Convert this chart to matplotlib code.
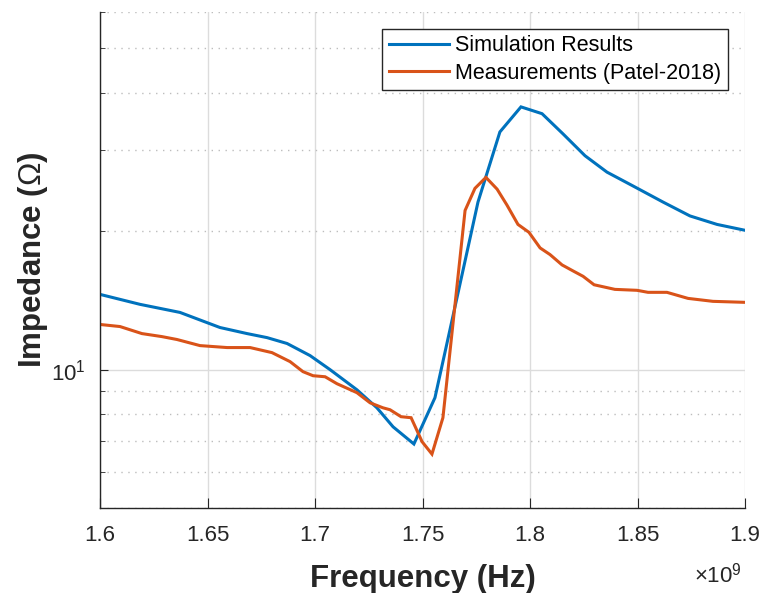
import numpy as np
import matplotlib
matplotlib.use("Agg")
import matplotlib.pyplot as plt
from matplotlib.ticker import FixedLocator, FuncFormatter, LogLocator, NullFormatter

# ---- data (frequency in GHz, impedance in Ohm) ----
sim_freq_ghz = [1.6000, 1.6186, 1.6372, 1.6558, 1.6684, 1.6777, 1.6870, 1.6977,
                1.7070, 1.7195, 1.7288, 1.7363, 1.7460, 1.7558, 1.7628, 1.7758,
                1.7860, 1.7958, 1.8056, 1.8153, 1.8256, 1.8358, 1.8479, 1.8619,
                1.8744, 1.8870, 1.9000]
sim_imp = [14.58, 13.87, 13.32, 12.35, 11.98, 11.74, 11.40, 10.73,
           10.00, 9.04, 8.26, 7.51, 6.89, 8.69, 12.23, 23.15,
           32.9, 37.3, 36.05, 32.6, 29.2, 26.9, 25.1, 23.15,
           21.6, 20.7, 20.1]

meas_freq_ghz = [1.6000, 1.6093, 1.6195, 1.6288, 1.6358, 1.6465, 1.6591, 1.6698,
                 1.6800, 1.6884, 1.6944, 1.6991, 1.7047, 1.7102, 1.7195, 1.7256,
                 1.7316, 1.7349, 1.7400, 1.7447, 1.7498, 1.7544, 1.7595, 1.7698,
                 1.7744, 1.7795, 1.7847, 1.7893, 1.7944, 1.7995, 1.8047, 1.8093,
                 1.8149, 1.8200, 1.8247, 1.8298, 1.8395, 1.8498, 1.8549, 1.8637,
                 1.8735, 1.8851, 1.9000]
meas_imp = [12.54, 12.41, 11.98, 11.80, 11.63, 11.28, 11.17, 11.17,
            10.89, 10.41, 9.90, 9.70, 9.65, 9.32, 8.91, 8.47,
            8.26, 8.18, 7.90, 7.86, 6.97, 6.55, 7.86, 22.2,
            24.8, 26.2, 24.7, 22.8, 20.7, 19.9, 18.4, 17.8,
            16.9, 16.4, 15.96, 15.3, 14.95, 14.88, 14.73, 14.73,
            14.29, 14.08, 14.01]

xtick_ghz = [1.6, 1.65, 1.7, 1.75, 1.8, 1.85, 1.9]
series_labels = ["Simulation Results", "Measurements (Patel-2018)"]

plt.rcParams['font.family'] = ['Liberation Sans', 'DejaVu Sans']
plt.rcParams['mathtext.fontset'] = 'custom'
plt.rcParams['mathtext.rm'] = 'Liberation Sans'
plt.rcParams['mathtext.it'] = 'Liberation Serif:italic'

fig = plt.figure(figsize=(7.61, 5.93), dpi=100)
ax = fig.add_axes([100/761, 1-508/593, 645/761, 496/593])

ax.plot(np.array(sim_freq_ghz)*1e9, sim_imp, color='#0072BD', lw=2.2,
        label=series_labels[0], solid_joinstyle='miter')
ax.plot(np.array(meas_freq_ghz)*1e9, meas_imp, color='#D95319', lw=2.2,
        label=series_labels[1], solid_joinstyle='miter')

ax.set_yscale('log')
ax.set_xlim(1.6e9, 1.9e9)
ax.set_ylim(5, 60)

ax.xaxis.set_major_locator(FixedLocator([v*1e9 for v in xtick_ghz]))
ax.xaxis.set_major_formatter(FuncFormatter(lambda v, p: f"{v/1e9:g}"))
ax.yaxis.set_major_locator(LogLocator(base=10, numticks=10))
ax.yaxis.set_minor_locator(LogLocator(base=10, subs=np.arange(2, 10), numticks=20))
ax.yaxis.set_minor_formatter(NullFormatter())

for s in ['top', 'right']:
    ax.spines[s].set_visible(False)
for s in ['left', 'bottom']:
    ax.spines[s].set_color('#262626')
    ax.spines[s].set_linewidth(1.0)

ax.tick_params(axis='both', which='both', direction='in', colors='#262626',
               labelcolor='#262626', labelsize=16)
ax.tick_params(axis='x', which='major', length=7, pad=12)
ax.tick_params(axis='y', which='major', length=6, pad=10)
ax.tick_params(axis='y', which='minor', length=3.5)
ax.tick_params(axis='x', which='minor', length=0)

ax.set_axisbelow(True)
ax.grid(True, which='major', axis='both', color='#dcdcdc', lw=1.0, ls='-')
ax.grid(True, which='minor', axis='y', color='#bdbdbd', lw=1.0, ls=(0, (1, 4)))

ax.set_xlabel('Frequency (Hz)', fontsize=22.5, fontweight='bold', color='#262626', labelpad=13)
ax.set_ylabel(r'Impedance ($\mathit{\Omega}$)', fontsize=22.5, fontweight='bold',
              color='#262626', labelpad=1)

fig.text(742/761, 1-575/593, r'$\times10^{9}$', fontsize=16, color='#262626',
         ha='right', va='center')

leg = ax.legend(loc='upper right', bbox_to_anchor=(0.9737, 0.9657), borderaxespad=0,
                fontsize=15.5, frameon=True, fancybox=False, handlelength=2.8,
                handletextpad=0.3, borderpad=0.3, labelspacing=0.3)
leg.get_frame().set_edgecolor('#262626')
leg.get_frame().set_linewidth(1.0)
leg.get_frame().set_alpha(1.0)

fig.savefig('out.png', dpi=100)
